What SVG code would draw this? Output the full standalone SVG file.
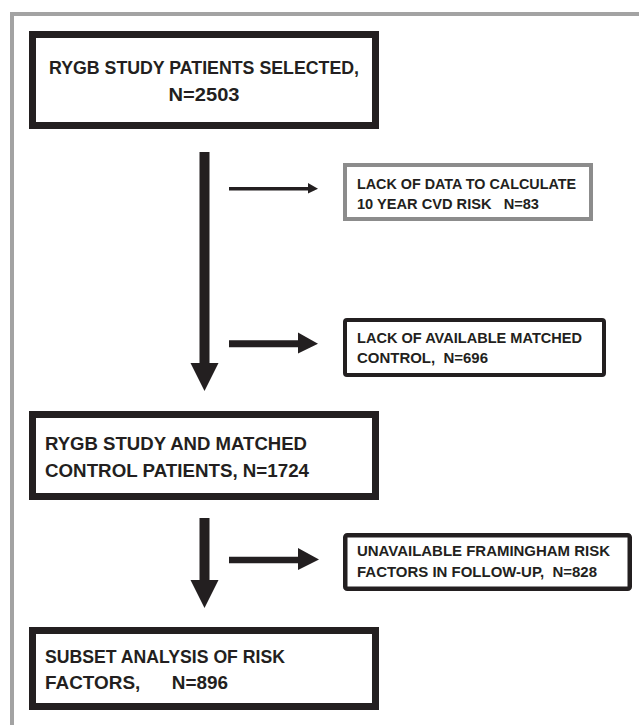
<svg xmlns="http://www.w3.org/2000/svg" width="639" height="725" viewBox="0 0 639 725">
<style>
.frame{stroke:#a3a3a3;stroke-width:4;fill:none}
.big{fill:#fff;stroke:#231f20;stroke-width:7}
.small{fill:#fff;stroke:#231f20;stroke-width:4}
.gray{fill:#fff;stroke:#8c8c8c;stroke-width:4}
.arr{fill:#231f20;stroke:none}
text{font-family:"Liberation Sans",Arial,sans-serif;font-weight:bold;fill:#231f20}
.t1{font-size:19px}
.t2{font-size:15px}
</style>
<rect width="639" height="725" fill="#fff"/>
<path class="frame" d="M12,725 V14 H639"/>
<g id="box1">
<rect class="big" x="32.5" y="34.5" width="343" height="91"/>
<text class="t1" x="49" y="74" textLength="310" lengthAdjust="spacingAndGlyphs">RYGB STUDY PATIENTS SELECTED,</text>
<text class="t1" x="168.5" y="101" textLength="71" lengthAdjust="spacingAndGlyphs">N=2503</text>
</g>
<g id="box_lack_data">
<rect class="gray" x="345" y="165" width="246" height="54"/>
<text class="t2" x="357" y="189" textLength="219" lengthAdjust="spacingAndGlyphs">LACK OF DATA TO CALCULATE</text>
<text class="t2" x="357" y="208.5" textLength="182" lengthAdjust="spacingAndGlyphs" xml:space="preserve">10 YEAR CVD RISK   N=83</text>
</g>
<g id="box_lack_control">
<rect class="small" x="345" y="320" width="259" height="55" rx="2"/>
<text class="t2" x="357" y="343" textLength="225" lengthAdjust="spacingAndGlyphs">LACK OF AVAILABLE MATCHED</text>
<text class="t2" x="357" y="363" textLength="131" lengthAdjust="spacingAndGlyphs" xml:space="preserve">CONTROL,  N=696</text>
</g>
<g id="box2">
<rect class="big" x="32.5" y="414.5" width="343" height="82"/>
<text class="t1" x="45" y="450" textLength="262" lengthAdjust="spacingAndGlyphs">RYGB STUDY AND MATCHED</text>
<text class="t1" x="45" y="477" textLength="264" lengthAdjust="spacingAndGlyphs">CONTROL PATIENTS, N=1724</text>
</g>
<g id="box_unavailable">
<rect class="small" x="345.25" y="535.25" width="284.5" height="53.5" rx="2" style="stroke-width:4.5"/>
<text class="t2" x="357" y="556" textLength="253" lengthAdjust="spacingAndGlyphs">UNAVAILABLE FRAMINGHAM RISK</text>
<text class="t2" x="357" y="577" textLength="240" lengthAdjust="spacingAndGlyphs" xml:space="preserve">FACTORS IN FOLLOW-UP,  N=828</text>
</g>
<g id="box4">
<rect class="big" x="32.5" y="630.5" width="343" height="76"/>
<text class="t1" x="45" y="663" textLength="240" lengthAdjust="spacingAndGlyphs">SUBSET ANALYSIS OF RISK</text>
<text class="t1" x="45" y="689" textLength="183" lengthAdjust="spacingAndGlyphs" xml:space="preserve">FACTORS,      N=896</text>
</g>
<g id="connectors">
<polygon class="arr" points="199.5,152 209.5,152 209.5,363 218.5,363 204.5,391 190.5,363 199.5,363"/>
<polygon class="arr" points="229,187 308,187 308,183 318,188.7 308,193.5 308,190.5 229,190.5"/>
<polygon class="arr" points="229,340.3 298,340.3 298,332.5 318,343.7 298,353.5 298,347.3 229,347.3"/>
<polygon class="arr" points="199.5,518 209.5,518 209.5,580 218.5,580 204.5,608 190.5,580 199.5,580"/>
<polygon class="arr" points="229,556.8 298,556.8 298,548 319,559.5 298,570 298,563.2 229,563.2"/>
</g>
</svg>
